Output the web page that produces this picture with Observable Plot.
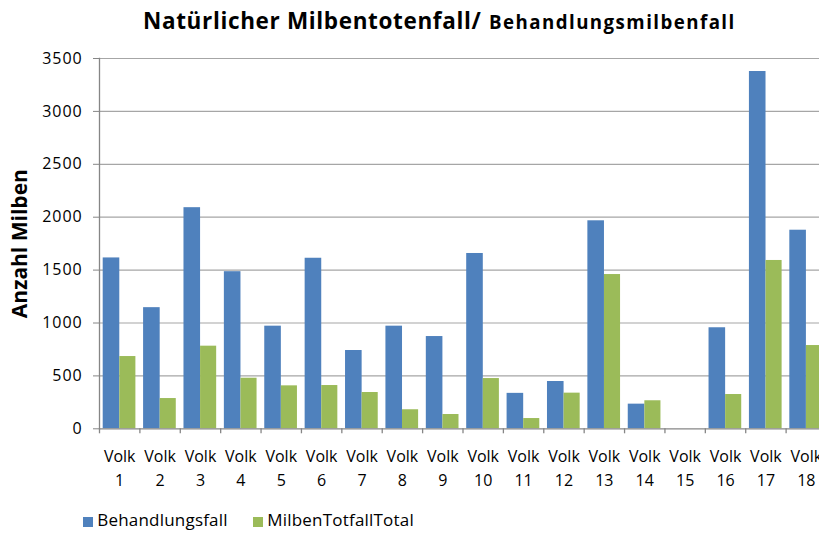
<!DOCTYPE html>
<html>
<head>
<meta charset="utf-8">
<script src="https://cdn.jsdelivr.net/npm/d3@7"></script>
<script src="https://cdn.jsdelivr.net/npm/@observablehq/plot@0.6"></script>
<style>
  html, body { margin: 0; padding: 0; background: #fff; overflow: hidden; width: 819px; height: 533px; }
  #wrap { position: relative; width: 819px; height: 533px; font-family: "Open Sans", sans-serif; }
  #title { position: relative; height: 50px; color: #000; white-space: nowrap; }
  #title span { position: absolute; font-weight: bold; }
  #title .a { left: 143px; top: 9.5px; font-size: 22.5px; line-height: 22.5px; letter-spacing: 0.65px; }
  #title .b { left: 489px; top: 12.9px; font-size: 18.7px; line-height: 18.7px; letter-spacing: 1.45px; }
  #legend { position: absolute; top: 0; left: 0; width: 819px; height: 533px; pointer-events: none; font-size: 17px; color: #000; white-space: nowrap; }
  #legend .sw { position: absolute; width: 10.7px; height: 10.7px; top: 516.7px; }
  #legend .lab { position: absolute; top: 510px; line-height: 20px; letter-spacing: 0.2px; }
  g[aria-label="y-axis tick label"] text { letter-spacing: 0.9px; }
  g[aria-label="ylabel"] text { letter-spacing: 1.1px; }
</style>
</head>
<body>
<div id="wrap">
  <div id="title"><span class="a">Natürlicher Milbentotenfall/</span><span class="b">Behandlungsmilbenfall</span></div>
  <div id="chart"></div>
  <div id="legend"></div>
</div>
<script>
const volks = ["Volk 1","Volk 2","Volk 3","Volk 4","Volk 5","Volk 6","Volk 7","Volk 8","Volk 9","Volk 10","Volk 11","Volk 12","Volk 13","Volk 14","Volk 15","Volk 16","Volk 17","Volk 18"];
const seriesNames = ["Behandlungsfall", "MilbenTotfallTotal"];
const behandlungsfall = [1615, 1145, 2090, 1485, 970, 1612, 740, 970, 872, 1657, 335, 447, 1966, 233, 0, 955, 3377, 1877];
const milbenTotfallTotal = [683, 286, 781, 478, 406, 409, 343, 180, 135, 475, 97, 337, 1458, 265, 0, 324, 1591, 787];
const yTicks = [0, 500, 1000, 1500, 2000, 2500, 3000, 3500];
const colors = ["#4F81BD", "#9BBB59"];

const data = [];
volks.forEach((v, i) => {
  data.push({volk: v, series: seriesNames[0], value: behandlungsfall[i]});
  data.push({volk: v, series: seriesNames[1], value: milbenTotfallTotal[i]});
});

const xRange = [99, 826];
const band = (xRange[1] - xRange[0]) / volks.length;

const chart = Plot.plot({
  width: 819,
  height: 438,
  marginTop: 8,
  marginBottom: 59.7,
  marginLeft: 99,
  marginRight: 0,
  style: {fontFamily: "'Open Sans', sans-serif", background: "transparent", overflow: "visible"},
  x: {type: "band", domain: volks, range: xRange, padding: 0, round: false, label: null},
  y: {domain: [0, 3500], ticks: yTicks, label: null},
  color: {domain: seriesNames, range: colors},
  marks: [
    Plot.gridY(yTicks.filter(d => d > 0), {stroke: "#a6a6a6", strokeOpacity: 1, strokeWidth: 1.2}),
    Plot.barY(data.filter(d => d.series === seriesNames[0]), {x: "volk", y: "value", fill: "series", insetLeft: 3.7, insetRight: band / 2 - 0.1}),
    Plot.barY(data.filter(d => d.series === seriesNames[1]), {x: "volk", y: "value", fill: "series", insetLeft: band / 2 + 0.1, insetRight: 4}),
    Plot.ruleY([0], {stroke: "#868686", strokeWidth: 1.3}),
    Plot.ruleX(volks, {x: d => d, y1: 0, y2: 0, dx: -band / 2, insetBottom: -5, stroke: "#868686", strokeWidth: 1.3}),
    Plot.frame({anchor: "left", stroke: "#868686", strokeWidth: 1.3}),
    Plot.axisY({ticks: yTicks, tickSize: 6, tickPadding: 11, fontSize: 16, label: null, stroke: "#868686", tickFormat: d => String(d), fill: "#000"}),
    Plot.axisX({tickSize: 0, tickPadding: 16, fontSize: 16, lineHeight: 1.5, label: null, fill: "#000",
      tickFormat: d => d.replace(" ", "\n")}),
    Plot.text(["Anzahl Milben"], {frameAnchor: "left", textAnchor: "middle", dx: -79, rotate: -90, fontSize: 21, fontWeight: "bold", fill: "#000", ariaLabel: "ylabel"})
  ]
});
document.getElementById("chart").appendChild(chart);

const legend = document.getElementById("legend");
const legendX = [[82.7, 97.3], [252.7, 267.3]];
seriesNames.forEach((s, i) => {
  const sw = document.createElement("span");
  sw.className = "sw";
  sw.style.left = legendX[i][0] + "px";
  sw.style.background = colors[i];
  const lab = document.createElement("span");
  lab.className = "lab";
  lab.style.left = legendX[i][1] + "px";
  lab.textContent = s;
  legend.appendChild(sw);
  legend.appendChild(lab);
});
</script>
</body>
</html>
